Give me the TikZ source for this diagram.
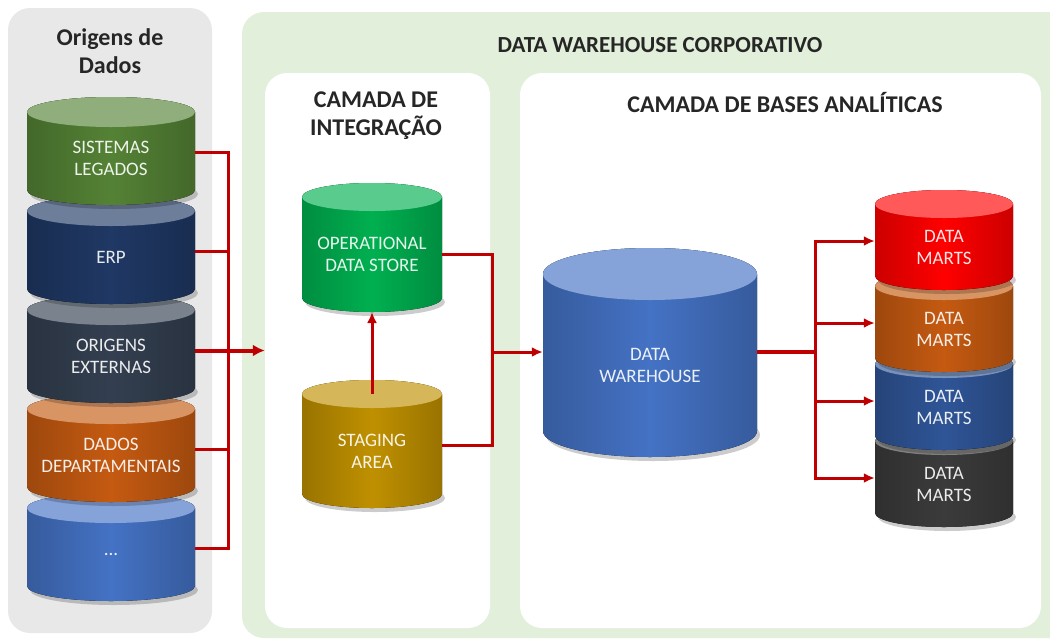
\documentclass[tikz,border=0pt]{standalone}
\usepackage{fontspec}
\setmainfont{Carlito}
\usetikzlibrary{arrows.meta}

\definecolor{srcgray}{HTML}{E8E8E8}
\definecolor{dwgreen}{HTML}{E2EFDA}
\definecolor{linkred}{HTML}{C00000}
\definecolor{titlegray}{HTML}{262626}
\definecolor{legacy}{HTML}{548235}
\definecolor{erpblue}{HTML}{1F3864}
\definecolor{extslate}{HTML}{333F50}
\definecolor{deptorange}{HTML}{C55A11}
\definecolor{otherblue}{HTML}{4472C4}
\definecolor{odsgreen}{HTML}{00B050}
\definecolor{stagegold}{HTML}{BF9000}
\definecolor{dmred}{HTML}{FF0000}
\definecolor{dmblue}{HTML}{2F5597}
\definecolor{dmdark}{HTML}{3B3B3B}

\tikzset{
  panel/.style={rounded corners=22pt, inner sep=0pt, draw=none},
  title/.style={font=\bfseries\fontsize{24}{28}\selectfont, text=titlegray, align=center},
  dbtext/.style={font=\fontsize{19}{22}\selectfont, align=center, inner sep=0pt},
  link/.style={draw=linkred, line width=3pt},
  arr/.style={link, -{Latex[length=11pt,width=10pt]}},
  bigarr/.style={draw=linkred, line width=4pt, -{Latex[length=12pt,width=12pt]}},
}

% name, x, top, bottom, half width, ry, colour, text
\newcommand{\dbcyl}[8]{%
  \fill[black, opacity=.2] (#2+3,#4-#6+4) ellipse[x radius=#5, y radius=#6];
  \fill[left color=#7!80!black, right color=#7!80!black, middle color=#7]
    (#2-#5,#3+#6) -- (#2-#5,#4-#6)
    arc[start angle=180, end angle=0, x radius=#5, y radius=#6]
    -- (#2+#5,#3+#6)
    arc[start angle=0, end angle=-180, x radius=#5, y radius=#6] -- cycle;
  \fill[#7!65!white] (#2,#3+#6) ellipse[x radius=#5, y radius=#6];
  \node[dbtext, minimum width=2*#5, text=#7!10!white] (#1) at (#2,{(#3+#4+#6)/2}) {#8};
  \coordinate (#1-e) at ([yshift=6pt]#1.east);
  \coordinate (#1-w) at ([yshift=6pt]#1.west);
  \coordinate (#1-top) at (#2,#3+#6);
  \coordinate (#1-bot) at (#2,#4);
}

\begin{document}
\begin{tikzpicture}[x=1pt, y=-1pt]
  \useasboundingbox (0,0) rectangle (1050,641);
  \clip (0,0) rectangle (1050,641);

  % panels
  \node[panel, fill=srcgray, minimum width=204, minimum height=625] (srcpanel) at (110,320.5) {};
  \node[panel, fill=dwgreen, minimum width=840, minimum height=626] (dwpanel) at (662,325) {};
  \node[panel, fill=white, minimum width=225, minimum height=555] (integ) at (377.5,350.5) {};
  \node[panel, fill=white, minimum width=521, minimum height=555] (bases) at (780.5,350.5) {};

  \node[title] (srctitle) at (110,51) {Origens de\\Dados};
  \node[title, font=\bfseries\fontsize{23}{28}\selectfont] (dwtitle) at (660,45) {DATA WAREHOUSE CORPORATIVO};
  \node[title] (integtitle) at (376,116) {CAMADA DE\\INTEGRAÇÃO};
  \node[title] (basestitle) at (785,102) {CAMADA DE BASES ANALÍTICAS};

  % source stack, lowest first
  \dbcyl{dots}{111}{493}{601}{84}{15}{otherblue}{...}
  \dbcyl{dept}{111}{394}{502}{84}{15}{deptorange}{DADOS\\DEPARTAMENTAIS}
  \dbcyl{orig}{111}{295}{403}{84}{15}{extslate}{ORIGENS\\EXTERNAS}
  \dbcyl{erp}{111}{196}{304}{84}{15}{erpblue}{ERP}
  \dbcyl{sis}{111}{97}{205}{84}{15}{legacy}{SISTEMAS\\LEGADOS}

  \dbcyl{ods}{372}{183}{312}{70}{14}{odsgreen}{OPERATIONAL\\DATA STORE}
  \dbcyl{stg}{372}{380}{508}{70}{14}{stagegold}{STAGING\\AREA}
  \dbcyl{dw}{650}{248}{457}{107}{26}{otherblue}{DATA\\WAREHOUSE}

  \dbcyl{dm4}{944}{427}{527}{69}{14}{dmdark}{DATA\\MARTS}
  \dbcyl{dm3}{944}{350}{450}{69}{14}{dmblue}{DATA\\MARTS}
  \dbcyl{dm2}{944}{272}{372}{69}{14}{deptorange}{DATA\\MARTS}
  \dbcyl{dm1}{944}{190}{290}{69}{14}{dmred}{DATA\\MARTS}

  % sources to integration
  \coordinate (srcbus) at ([xshift=33pt]orig-e);
  \draw[link] (sis-e) -| (srcbus) |- (dots-e);
  \draw[link] (erp-e) -- (erp-e -| srcbus);
  \draw[link] (dept-e) -- (dept-e -| srcbus);
  \draw[bigarr] (orig-e) -- (orig-e -| integ.west);

  % integration to warehouse
  \coordinate (odsbus) at (492,352);
  \draw[arr] (stg-top) -- (ods-bot);
  \draw[link] (ods.east) -| (odsbus) |- (stg-e);
  \draw[arr] (odsbus) -- (odsbus -| dw.west);

  % warehouse to marts
  \coordinate (dmbus) at (815,352);
  \draw[link, line width=4pt] (dw.east |- dmbus) -- (dmbus);
  \draw[link, line cap=rect] (dmbus |- dm1-w) -- (dmbus |- dm4-w);
  \foreach \m in {dm1,dm2,dm3,dm4}
    \draw[arr] (dmbus |- \m-w) -- (\m-w);
\end{tikzpicture}
\end{document}
